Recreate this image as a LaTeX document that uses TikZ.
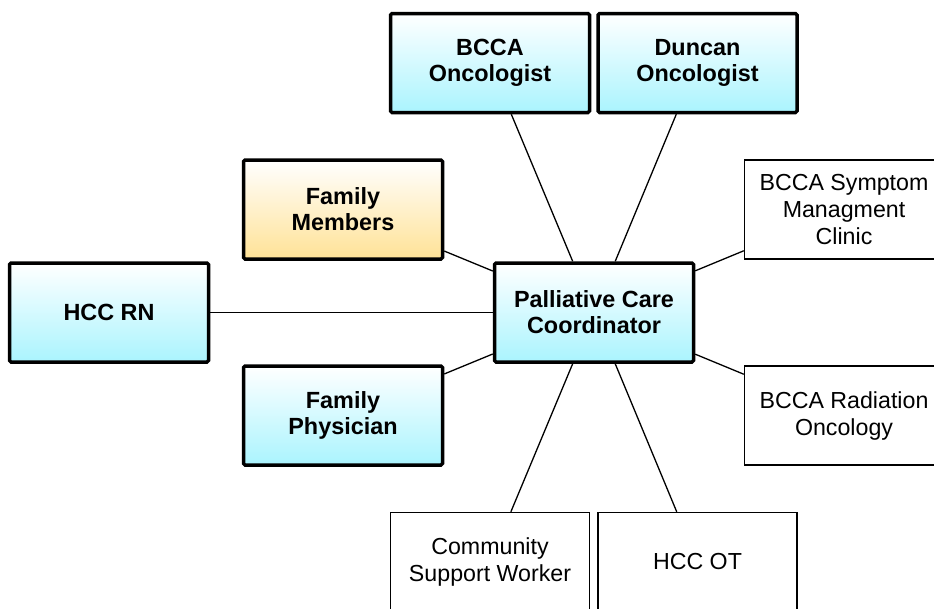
\documentclass[tikz,border=0pt]{standalone}
\usepackage{fontspec}
\setmainfont{Liberation Sans}
\definecolor{cyanbot}{RGB}{170,244,254}
\definecolor{yelbot}{RGB}{255,226,150}
\begin{document}
\begin{tikzpicture}[x=1pt,y=-1pt,
  base/.style={rectangle, minimum width=199pt, minimum height=99pt, align=center, inner sep=2pt},
  keybox/.style={base, draw=black, line width=3.5pt, rounded corners=1.5pt, top color=white, bottom color=cyanbot, font=\bfseries\fontsize{23.4}{26}\selectfont},
  fambox/.style={keybox, bottom color=yelbot},
  plainbox/.style={base, draw=black, line width=1.4pt, fill=white, font=\fontsize{23.2}{27}\selectfont},
  link/.style={line width=1.3pt}]
\useasboundingbox (0,0) rectangle (934,608);
\node[keybox] (coord) at (594,312.5) {Palliative Care\\Coordinator};
\node[keybox] (bccaonc) at (490,63) {BCCA\\Oncologist};
\node[keybox] (duncan) at (697.5,63) {Duncan\\Oncologist};
\node[fambox] (fammem) at (343,209.5) {Family\\Members};
\node[keybox] (hccrn) at (109,312.5) {HCC RN};
\node[keybox] (famphys) at (343,415.5) {Family\\Physician};
\node[plainbox] (symptom) at (844,209.5) {BCCA Symptom\\Managment\\Clinic};
\node[plainbox] (radiation) at (844,415.5) {BCCA Radiation\\Oncology};
\node[plainbox] (community) at (490,562) {Community\\Support Worker};
\node[plainbox] (hccot) at (697.5,562) {HCC OT};
\foreach \t in {bccaonc,duncan,fammem,hccrn,famphys,symptom,radiation,community,hccot}
  \draw[link] (coord) -- (\t);
\end{tikzpicture}
\end{document}
